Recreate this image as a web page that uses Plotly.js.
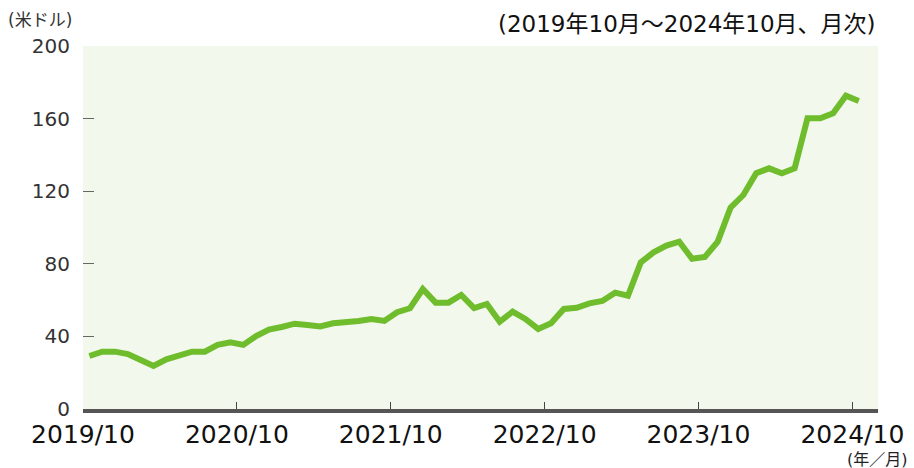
<!DOCTYPE html>
<html>
<head>
<meta charset="utf-8">
<script src="https://cdn.plot.ly/plotly-3.0.1.min.js"></script>
<style>
  html, body { margin: 0; padding: 0; background: #fff; }
  #chart { width: 914px; height: 468px; }
</style>
</head>
<body>
<div id="chart"></div>
<script>
// monthly index, 2019/10 .. 2024/10 (61 months)
var months = [];
for (var y = 2019; y <= 2024; y++) {
    for (var m = 1; m <= 12; m++) {
        if ((y === 2019 && m < 10) || (y === 2024 && m > 10)) continue;
        months.push(y + "/" + m);
    }
}

// values in US dollars
var values = [
    29.2, 31.6, 31.6, 30.3, 27.0, 23.7, 27.4, 29.2, 31.6, 31.6, 35.3, 36.7,
    35.3, 40.2, 43.8, 45.2, 47.0, 46.3, 45.5, 47.2, 47.6, 48.5, 49.6, 48.5,
    53.3, 55.5, 66.1, 58.6, 58.6, 62.8, 55.6, 57.9, 48.1, 53.6, 49.6, 44.1,
    47.2, 55.1, 55.8, 58.2, 59.5, 64.1, 62.4, 80.8, 86.3, 90.0, 92.2, 82.8,
    83.8, 92.2, 110.9, 117.9, 129.9, 132.6, 129.9, 132.6, 160.2, 160.2, 162.9, 172.6,
    169.7
];

// x-axis labels, one per October (ticks sit half a month before the point)
var tickLabels = ["2019/10", "2020/10", "2021/10", "2022/10", "2023/10", "2024/10"];
var tickPos = tickLabels.map(function (t) { return months.indexOf(t) - 0.5; });

var yTicks = [0, 40, 80, 120, 160, 200];

var idx = months.map(function (d, i) { return i; });

var trace = {
    x: idx,
    y: values,
    text: months,
    type: "scatter",
    mode: "lines",
    line: { color: "#6fbc2d", width: 6 },
    hoverinfo: "text+y"
};

var jp = "DejaVu Sans, Noto Sans CJK JP, sans-serif";

var layout = {
    width: 914,
    height: 468,
    margin: { l: 83, r: 36, t: 46, b: 59 },
    paper_bgcolor: "#ffffff",
    plot_bgcolor: "#f3f8ed",
    showlegend: false,
    font: { family: jp, color: "#222" },
    xaxis: {
        range: [-0.5, 61.5],
        tickmode: "array",
        tickvals: tickPos,
        ticktext: tickLabels,
        ticks: "inside",
        ticklen: 7,
        tickwidth: 1,
        tickcolor: "#444",
        tickfont: { size: 25, color: "#111", family: "DejaVu Sans, sans-serif" },
        showgrid: false,
        zeroline: false,
        showline: true,
        linecolor: "#555",
        linewidth: 4
    },
    yaxis: {
        range: [0, 200],
        tickmode: "array",
        tickvals: yTicks,
        ticks: "inside",
        ticklen: 11,
        tickwidth: 1,
        tickcolor: "#666",
        ticklabelstandoff: 12,
        tickfont: { size: 20, color: "#333", family: "DejaVu Sans, sans-serif" },
        showgrid: false,
        zeroline: false,
        showline: false
    },
    annotations: [
        {
            text: "(米ドル)", xref: "paper", yref: "paper",
            x: -0.097, y: 1.0, xanchor: "left", yanchor: "bottom", yshift: 14,
            showarrow: false,
            font: { size: 17, color: "#333", family: jp }
        },
        {
            text: "(2019年10月～2024年10月、月次)", xref: "paper", yref: "paper",
            x: 1.0, y: 1.0, xanchor: "right", yanchor: "bottom", yshift: 7,
            showarrow: false,
            font: { size: 23, color: "#111", family: jp }
        },
        {
            text: "(年／月)", xref: "paper", yref: "paper",
            x: 1.04, y: 0, xanchor: "right", yanchor: "top", yshift: -39,
            showarrow: false,
            font: { size: 16, color: "#222", family: jp }
        }
    ]
};

Plotly.newPlot("chart", [trace], layout, { displayModeBar: false, staticPlot: true });
</script>
</body>
</html>
